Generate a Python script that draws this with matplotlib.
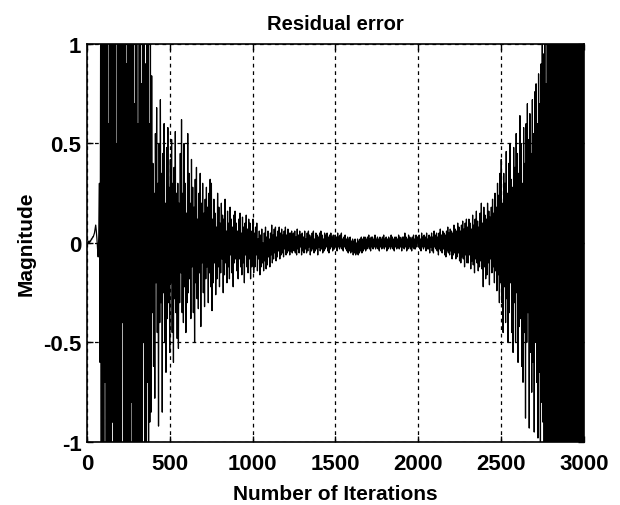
import numpy as np
import matplotlib
matplotlib.use("Agg")
import matplotlib.pyplot as plt

plt.rcParams['font.family'] = ['Liberation Sans', 'DejaVu Sans']

title = "Residual error"
x_label = "Number of Iterations"
y_label = "Magnitude"
x_ticks = [0, 500, 1000, 1500, 2000, 2500, 3000]
x_tick_labels = ["0", "500", "1000", "1500", "2000", "2500", "3000"]
y_ticks = [-1, -0.5, 0, 0.5, 1]
y_tick_labels = ["-1", "-0.5", "0", "0.5", "1"]
n_iterations = 3000

# residual error in segments (values beyond +/-1 are clipped by the axes)
start_quiet = [0.0, 0.0, 0.0, 0.01, 0.0, 0.01, 0.01, 0.02, 0.02, 0.03,
               0.03, 0.04, 0.05, 0.07, 0.09, 0.06, 0.02, -0.03, -0.07, 0.04]
early_burst = [0.3, -0.6, 1.2, -1.5, 2.1, -2.6, 1.4, -3.0, 2.8, -0.7,
               2.4, -2.9, 3.1, -1.2, 0.6, -2.5, 2.7, -3.1, 1.9, -2.2,
               3.0, -0.9, 2.2, -2.7, 1.6, -3.2, 2.9, -1.8, 0.5, -2.4,
               2.6, -2.9, 1.1, -1.7, 3.2, -2.3, 2.0, -0.4, 2.5, -2.8,
               1.4, -3.0, 2.7, -1.5, 0.9, -2.6, 2.3, -1.1, 1.8, -2.1,
               2.4, -0.8, 1.3, -2.5, 2.0, -1.6, 0.7, -1.9, 2.2, -1.3,
               1.6, -2.0, 0.6, -1.4, 1.9, -1.0, 1.5, -1.8, 0.8, -1.2,
               1.3, -0.5, 1.1, -1.6, 0.9, -1.1, 1.4, -0.7, 1.0, -1.3,
               0.6, -0.9, 1.05, -0.85]
decay_a = [0.84, -0.35, 0.4, -0.62, 0.25, -0.78, 0.55, -0.2, 0.68, -0.45,
           0.3, -0.92, 0.5, -0.4, 0.72, -0.3, 0.35, -0.85, 0.45, -0.25,
           0.6, -0.5, 0.2, -0.65, 0.48, -0.38, 0.58, -0.3, 0.28, -0.55,
           0.42, -0.2, 0.52, -0.45, 0.3, -0.6, 0.38, -0.28, 0.56, -0.35,
           0.25, -0.48]
decay_b = [0.3, -0.53, 0.2, -0.3, 0.45, -0.15, 0.62, -0.35, 0.25, -0.4,
           0.5, -0.22, 0.3, -0.45, 0.15, -0.3, 0.55, -0.25, 0.35, -0.18,
           0.2, -0.38, 0.42, -0.12, 0.28, -0.35, 0.18, -0.5, 0.32, -0.2,
           0.38, -0.28, 0.12, -0.33, 0.25, -0.15, 0.35, -0.42, 0.2, -0.1,
           0.3, -0.25, 0.15, -0.32, 0.22, -0.18, 0.28, -0.12, 0.18, -0.3,
           0.25, -0.15, 0.32, -0.22]
decay_c = [0.3, -0.34, 0.12, -0.2, 0.22, -0.1, 0.15, -0.26, 0.08, -0.18,
           0.25, -0.12, 0.18, -0.22, 0.1, -0.15, 0.2, -0.08, 0.14, -0.25,
           0.12, -0.16, 0.22, -0.1, 0.06, -0.2, 0.16, -0.12, 0.1, -0.18,
           0.18, -0.06, 0.12, -0.15, 0.08, -0.22, 0.14, -0.1, 0.16, -0.08,
           0.1, -0.14, 0.06, -0.18, 0.12, -0.08, 0.15, -0.12, 0.05, -0.16,
           0.13, -0.1, 0.08, -0.2, 0.1, -0.06, 0.14, -0.12, 0.07, -0.15,
           0.12, -0.08, 0.1, -0.18, 0.06, -0.12]
decay_d = [-0.1, 0.12, -0.15, 0.05, -0.12, 0.08, -0.06, 0.1, -0.14, 0.02,
           -0.08, 0.06, -0.16, 0.04, -0.12, 0.07, -0.1, 0.0, -0.14, 0.05,
           -0.09, 0.08, -0.13, 0.03, -0.11, 0.06, -0.07, 0.02, -0.12, 0.05,
           -0.06, 0.09, -0.1, 0.04, -0.08, 0.07, -0.05, 0.08, -0.09, 0.03,
           -0.07, 0.06, -0.04, 0.08, -0.08, 0.05, -0.06, 0.07, -0.05, 0.04,
           -0.07, 0.06, -0.03, 0.08, -0.06, 0.04, -0.05, 0.07, -0.04, 0.05,
           -0.06, 0.05, -0.04, 0.06, -0.05, 0.04]
settled_a = [0.05, -0.04, 0.06, -0.05, 0.03, -0.06, 0.07, -0.03, 0.04, -0.05,
             0.06, -0.02, 0.04, -0.06, 0.05, -0.04, 0.03, -0.05, 0.06, -0.03,
             0.02, -0.05, 0.05, -0.04, 0.06, -0.02, 0.04, -0.06, 0.03, -0.04,
             0.05, -0.03, 0.06, -0.05, 0.02, -0.04, 0.05, -0.03, 0.04, -0.06,
             0.03, -0.02, 0.05, -0.04, 0.06, -0.03, 0.04, -0.05, 0.02, -0.04,
             0.05, -0.03, 0.04, -0.02, 0.05, -0.04, 0.03, -0.05, 0.04, -0.03,
             0.05, -0.02, 0.03, -0.04, 0.04, -0.03]
settled_b = [-0.03, 0.04, -0.02, 0.03, -0.04, 0.05, -0.02, 0.03, -0.03, 0.04,
             -0.02, 0.05, -0.03, 0.02, -0.04, 0.03, -0.02, 0.04, -0.03, 0.02,
             -0.04, 0.03, -0.05, 0.02, -0.04, 0.03, -0.05, 0.01, -0.04, 0.02,
             -0.06, 0.01, -0.05, 0.02, -0.06, 0.0, -0.05, 0.02, -0.06, 0.01,
             -0.05, 0.02, -0.04, 0.03, -0.05, 0.02, -0.04, 0.03, -0.03, 0.03,
             -0.04, 0.02, -0.03, 0.03, -0.02, 0.04, -0.03, 0.02, -0.04, 0.03,
             -0.02, 0.03, -0.03, 0.02, -0.02, 0.04, -0.03, 0.02, -0.02, 0.03,
             -0.03, 0.02, -0.04, 0.03, -0.02, 0.02, -0.03, 0.03, -0.02, 0.04,
             -0.03, 0.02, -0.02, 0.03, -0.04, 0.02, -0.03, 0.03, -0.02, 0.02,
             -0.03, 0.04, -0.02, 0.03, -0.03, 0.02, -0.04, 0.03, -0.02, 0.03,
             -0.03, 0.02, -0.02, 0.04, -0.03, 0.03, -0.02, 0.02, -0.04, 0.03,
             -0.02, 0.03, -0.03, 0.05, -0.02, 0.03, -0.04, 0.02, -0.03, 0.04,
             -0.02, 0.03, -0.03, 0.02, -0.04, 0.03, -0.02, 0.04, -0.03, 0.02,
             -0.03, 0.04, -0.02, 0.03]
growth_a = [0.03, -0.02, 0.04, -0.03, 0.02, -0.04, 0.05, -0.02, 0.03, -0.03,
            0.04, -0.02, 0.03, -0.04, 0.05, -0.03, 0.02, -0.03, 0.04, -0.05,
            0.03, -0.02, 0.05, -0.04, 0.03, -0.05, 0.06, -0.02, 0.04, -0.03,
            0.05, -0.04, 0.03, -0.06, 0.05, -0.03, 0.07, -0.04, 0.04, -0.05,
            0.06, -0.03, 0.05, -0.06, 0.04, -0.07, 0.06, -0.04, 0.08, -0.05,
            0.05, -0.06, 0.07, -0.04, 0.06, -0.08, 0.05, -0.06, 0.09, -0.05,
            0.07, -0.08, 0.06, -0.07, 0.1, -0.05, 0.08, -0.09, 0.06, -0.1,
            0.09, -0.07, 0.11, -0.08, 0.07, -0.12, 0.1, -0.06, 0.12, -0.1]
growth_b = [0.08, -0.1, 0.12, -0.06, 0.1, -0.13, 0.07, -0.09, 0.14, -0.11,
            0.09, -0.15, 0.12, -0.08, 0.16, -0.1, 0.11, -0.14, 0.08, -0.12,
            0.15, -0.09, 0.2, -0.13, 0.1, -0.22, 0.18, -0.12, 0.14, -0.18,
            0.12, -0.16, 0.2, -0.1, 0.16, -0.21, 0.13, -0.08, 0.18, -0.15,
            0.22, -0.12, 0.15, -0.2, 0.25, -0.14, 0.18, -0.24, 0.3, -0.16,
            0.24, -0.3, 0.35, -0.2]
growth_c = [0.42, -0.3, 0.2, -0.45, 0.35, -0.22, 0.3, -0.4, 0.46, -0.28,
            0.25, -0.5, 0.4, -0.35, 0.5, -0.2, 0.32, -0.45, 0.28, -0.55,
            0.48, -0.3, 0.38, -0.5, 0.55, -0.25, 0.45, -0.6, 0.35, -0.42,
            0.64, -0.38, 0.5, -0.62, 0.3, -0.7, 0.58, -0.45, 0.4, -0.88,
            0.6, -0.5, 0.7, -0.35, 0.52, -0.93, 0.65, -0.55, 0.45, -0.75,
            0.72, -0.6, 0.55, -0.95, 0.76, -0.5, 0.8, -0.7, 0.6, -0.98,
            0.85, -0.65, 0.7, -1.05, 0.9, -0.8]
late_burst = [1.1, -0.9, 0.95, -1.3, 1.6, -1.1, 0.8, -1.5, 2.0, -1.2,
              1.4, -1.8, 2.3, -1.0, 1.7, -2.2, 2.6, -1.6, 1.2, -2.5,
              2.8, -2.0, 2.4, -2.9, 1.5, -2.7, 3.0, -2.3, 2.1, -3.1,
              2.9, -1.8, 2.6, -3.0, 3.2, -2.4, 1.9, -2.8, 3.1, -2.6,
              2.2, -3.2, 2.7, -2.1, 3.0, -2.9, 2.5, -3.0, 2.8, -2.2,
              3.1, -2.7, 2.0, -3.1, 2.9, -2.5, 3.2, -2.8, 2.4, -3.0,
              2.7, -2.6, 3.0, -2.4, 2.8, -2.9, 2.6, -2.7]

residual = np.array(start_quiet + early_burst + decay_a + decay_b + decay_c + decay_d
                    + settled_a + settled_b + growth_a + growth_b + growth_c + late_burst)
iterations = np.linspace(0, n_iterations, len(residual))

fig = plt.figure(figsize=(6.2, 5.06), dpi=100)
ax = fig.add_axes([0.1403, 0.1245, 0.8016, 0.7866])
ax.plot(iterations, residual, color='black', linewidth=0.9)

ax.set_xlim(0, 3000)
ax.set_ylim(-1, 1)
ax.set_xticks(x_ticks)
ax.set_xticklabels(x_tick_labels)
ax.set_yticks(y_ticks)
ax.set_yticklabels(y_tick_labels)
ax.tick_params(direction='in', length=4, width=1, top=True, right=True,
               labelsize=16, colors='black')
ax.tick_params(axis='x', pad=8)
ax.tick_params(axis='y', pad=4)
for lbl in ax.get_xticklabels() + ax.get_yticklabels():
    lbl.set_fontweight('bold')
ax.grid(True, color='black', linestyle=(0, (3, 3)), linewidth=0.9)
for sp in ax.spines.values():
    sp.set_linewidth(1.2)
    sp.set_color('black')

ax.set_title(title, fontsize=14.5, fontweight='bold', pad=11)
ax.set_xlabel(x_label, fontsize=15, fontweight='bold', labelpad=7)
ax.set_ylabel(y_label, fontsize=15, fontweight='bold', labelpad=5)

fig.savefig("out.png", dpi=100)
